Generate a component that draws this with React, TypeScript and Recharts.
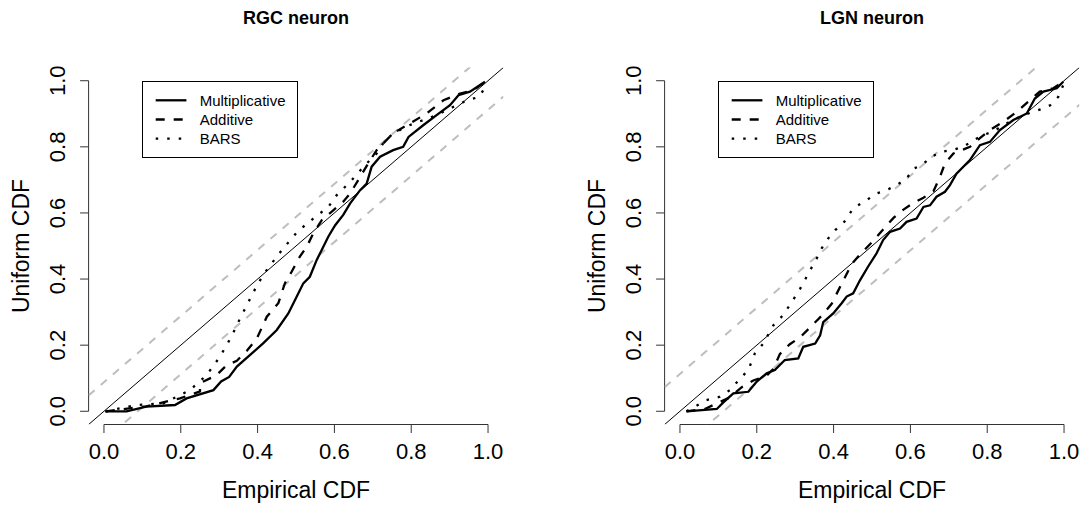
import React from 'react';
import { LineChart, Line, XAxis, YAxis, ReferenceLine, Legend, Label } from 'recharts';

// axis setup shared by both panels (R style: 4% padding around [0, 1])
const ticks = [0, 0.2, 0.4, 0.6, 0.8, 1];
const domain: [number, number] = [-0.04, 1.04];

const seriesNames = ['Multiplicative', 'Additive', 'BARS'];

// RGC neuron: [empirical, uniform]
const rgcMultiplicative = [
  [0.003, 0], [0.059, 0], [0.11, 0.014], [0.185, 0.019], [0.215, 0.039], [0.285, 0.064],
  [0.305, 0.09], [0.326, 0.104], [0.346, 0.135], [0.385, 0.175], [0.415, 0.206], [0.45, 0.246],
  [0.48, 0.296], [0.502, 0.347], [0.519, 0.387], [0.536, 0.407], [0.554, 0.458], [0.567, 0.488],
  [0.584, 0.528], [0.602, 0.563], [0.623, 0.594], [0.641, 0.629], [0.667, 0.669], [0.684, 0.689],
  [0.697, 0.74], [0.719, 0.77], [0.753, 0.79], [0.779, 0.8], [0.793, 0.83], [0.832, 0.866],
  [0.866, 0.896], [0.901, 0.926], [0.923, 0.956], [0.953, 0.967], [0.992, 0.997],
];
const rgcAdditive = [
  [0.005, 0], [0.11, 0.015], [0.198, 0.039], [0.25, 0.06], [0.25, 0.085], [0.293, 0.109],
  [0.318, 0.138], [0.346, 0.153], [0.372, 0.183], [0.398, 0.22], [0.424, 0.286], [0.454, 0.327],
  [0.471, 0.387], [0.489, 0.423], [0.51, 0.468], [0.528, 0.498], [0.545, 0.538], [0.567, 0.578],
  [0.597, 0.608], [0.623, 0.634], [0.641, 0.659], [0.667, 0.709], [0.688, 0.75], [0.71, 0.79],
  [0.753, 0.841], [0.797, 0.871], [0.84, 0.901], [0.884, 0.941], [0.927, 0.961], [0.962, 0.971],
  [0.992, 0.997],
];
const rgcBars = [
  [0.005, 0], [0.085, 0.019], [0.155, 0.024], [0.224, 0.064], [0.267, 0.109], [0.302, 0.165],
  [0.332, 0.226], [0.354, 0.28], [0.376, 0.33], [0.398, 0.38], [0.419, 0.42], [0.435, 0.445],
  [0.465, 0.49], [0.505, 0.545], [0.545, 0.583], [0.584, 0.618], [0.606, 0.654], [0.641, 0.694],
  [0.68, 0.745], [0.71, 0.78], [0.732, 0.82], [0.758, 0.844], [0.797, 0.866], [0.832, 0.881],
  [0.866, 0.896], [0.901, 0.916], [0.946, 0.941], [0.977, 0.951], [0.992, 0.98],
];
const rgcBand = 0.088;

// LGN neuron
const lgnMultiplicative = [
  [0.017, 0], [0.096, 0.007], [0.113, 0.027], [0.139, 0.054], [0.178, 0.059], [0.2, 0.09],
  [0.226, 0.115], [0.247, 0.125], [0.273, 0.155], [0.308, 0.16], [0.321, 0.195], [0.352, 0.205],
  [0.365, 0.23], [0.373, 0.27], [0.399, 0.296], [0.421, 0.327], [0.434, 0.347], [0.451, 0.357],
  [0.469, 0.397], [0.49, 0.438], [0.512, 0.478], [0.529, 0.518], [0.547, 0.543], [0.573, 0.553],
  [0.59, 0.573], [0.616, 0.583], [0.634, 0.618], [0.651, 0.623], [0.668, 0.649], [0.69, 0.664],
  [0.703, 0.684], [0.72, 0.719], [0.755, 0.76], [0.781, 0.805], [0.807, 0.815], [0.833, 0.851],
  [0.868, 0.881], [0.903, 0.901], [0.924, 0.946], [0.946, 0.967], [0.981, 0.977], [0.998, 0.997],
];
const lgnAdditive = [
  [0.017, 0], [0.065, 0.007], [0.096, 0.024], [0.13, 0.042], [0.161, 0.073], [0.191, 0.093],
  [0.226, 0.108], [0.243, 0.128], [0.26, 0.173], [0.286, 0.203], [0.313, 0.224], [0.339, 0.254],
  [0.356, 0.274], [0.373, 0.294], [0.395, 0.325], [0.412, 0.365], [0.434, 0.415], [0.447, 0.445],
  [0.469, 0.475], [0.503, 0.515], [0.529, 0.55], [0.556, 0.585], [0.582, 0.61], [0.608, 0.631],
  [0.634, 0.646], [0.66, 0.666], [0.677, 0.709], [0.69, 0.75], [0.712, 0.78], [0.755, 0.8],
  [0.781, 0.826], [0.807, 0.851], [0.842, 0.876], [0.877, 0.906], [0.911, 0.941], [0.937, 0.967],
  [0.972, 0.977], [0.998, 0.997],
];
const lgnBars = [
  [0.017, 0], [0.069, 0.034], [0.104, 0.044], [0.13, 0.064], [0.156, 0.098], [0.178, 0.125],
  [0.195, 0.175], [0.217, 0.205], [0.243, 0.26], [0.264, 0.285], [0.286, 0.321], [0.313, 0.371],
  [0.339, 0.427], [0.356, 0.462], [0.369, 0.493], [0.386, 0.523], [0.404, 0.548], [0.425, 0.568],
  [0.451, 0.614], [0.486, 0.639], [0.512, 0.659], [0.538, 0.669], [0.564, 0.684], [0.59, 0.704],
  [0.608, 0.734], [0.629, 0.744], [0.655, 0.77], [0.681, 0.785], [0.707, 0.79], [0.738, 0.8],
  [0.764, 0.82], [0.79, 0.836], [0.816, 0.846], [0.842, 0.866], [0.868, 0.881], [0.894, 0.896],
  [0.92, 0.906], [0.946, 0.916], [0.964, 0.926], [0.985, 0.951], [0.998, 0.987],
];
const lgnBand = 0.113;

const W = 541;
const H = 506;
const lineDash = [undefined, '9 9', '2.5 9'];
const axisColor = '#333';

const toPoints = (pairs: number[][]) => pairs.map(([x, y]) => ({ x, y }));

function XTick({ x, y, payload }: any) {
  return (
    <g>
      <line x1={x} x2={x} y1={y} y2={y + 8.5} stroke={axisColor} />
      <text x={x} y={y + 34.5} textAnchor="middle" fontSize={22} fill="#000">
        {payload.value.toFixed(1)}
      </text>
    </g>
  );
}

function YTick({ x, y, payload }: any) {
  const tx = x - 23.5;
  return (
    <g>
      <line x1={x - 8.5} x2={x} y1={y} y2={y} stroke={axisColor} />
      <text x={tx} y={y} transform={`rotate(-90 ${tx} ${y})`} textAnchor="middle" fontSize={22} fill="#000">
        {payload.value.toFixed(1)}
      </text>
    </g>
  );
}

function LegendBox() {
  return (
    <svg width={156} height={77} style={{ display: 'block' }}>
      <rect x={0.5} y={0.5} width={155} height={76} fill="#fff" stroke="#000" />
      {seriesNames.map((name, i) => {
        const ly = 19.3 + i * 19.2;
        return (
          <g key={name}>
            <line x1={13.7} x2={44.4} y1={ly} y2={ly} stroke="#000" strokeWidth={2.3} strokeDasharray={lineDash[i]} />
            <text x={57.7} y={ly} dy="0.36em" fontSize={15} fill="#000">{name}</text>
          </g>
        );
      })}
    </svg>
  );
}

function Panel({ title, curves, band, yAxisWidth, marginRight, legendLeft }: any) {
  const plotWidth = W - yAxisWidth - marginRight;
  const yLabelX = yAxisWidth - 60.1;
  const plotMid = 67.5 + (H - 67.5 - 81.5) / 2;
  return (
    <div style={{ position: 'relative', width: W, height: H }}>
      <div
        style={{
          position: 'absolute', left: yAxisWidth, width: plotWidth, top: 8.8,
          textAlign: 'center', fontWeight: 'bold', fontSize: 18, lineHeight: '18px',
        }}
      >
        {title}
      </div>
      <LineChart width={W} height={H} margin={{ top: 67.5, right: marginRight, bottom: 0, left: 0 }}>
        <XAxis
          type="number" dataKey="x" domain={domain} ticks={ticks} interval={0} allowDataOverflow
          axisLine={false} tickLine={false} tickSize={0} tickMargin={0} height={81.5} tick={<XTick />}
        >
          <Label position="insideBottom" offset={7.7} value="Empirical CDF" fontSize={23} fill="#000" />
        </XAxis>
        <YAxis
          type="number" dataKey="y" domain={domain} ticks={ticks} interval={0} allowDataOverflow
          axisLine={false} tickLine={false} tickSize={0} tickMargin={0} width={yAxisWidth} tick={<YTick />}
        >
          <Label
            content={() => (
              <text x={yLabelX} y={plotMid} transform={`rotate(-90 ${yLabelX} ${plotMid})`} textAnchor="middle" fontSize={23} fill="#000">
                Uniform CDF
              </text>
            )}
          />
        </YAxis>
        <ReferenceLine segment={[{ x: 0, y: domain[0] }, { x: 1, y: domain[0] }]} stroke={axisColor} ifOverflow="visible" />
        <ReferenceLine segment={[{ x: domain[0], y: 0 }, { x: domain[0], y: 1 }]} stroke={axisColor} ifOverflow="visible" />
        <ReferenceLine
          segment={[{ x: domain[0], y: domain[0] + band }, { x: domain[1], y: domain[1] + band }]}
          stroke="#bebebe" strokeWidth={2} strokeDasharray="8 8" ifOverflow="hidden"
        />
        <ReferenceLine
          segment={[{ x: domain[0], y: domain[0] - band }, { x: domain[1], y: domain[1] - band }]}
          stroke="#bebebe" strokeWidth={2} strokeDasharray="8 8" ifOverflow="hidden"
        />
        <ReferenceLine
          segment={[{ x: domain[0], y: domain[0] }, { x: domain[1], y: domain[1] }]}
          stroke="#000" strokeWidth={1} ifOverflow="hidden"
        />
        {curves.map((c: number[][], i: number) => (
          <Line
            key={seriesNames[i]} name={seriesNames[i]} data={toPoints(c)} dataKey="y" type="linear"
            stroke="#000" strokeWidth={2.3} strokeDasharray={lineDash[i]} dot={false} activeDot={false}
            isAnimationActive={false}
          />
        ))}
        <Legend
          layout="vertical" align="center" verticalAlign="middle"
          wrapperStyle={{ left: legendLeft, top: 80.7, width: 156, height: 77 }}
          content={() => <LegendBox />}
        />
      </LineChart>
    </div>
  );
}

export default function App() {
  return (
    <div
      style={{
        position: 'absolute', left: 0, top: 0, width: 1082, height: 506, background: '#fff',
        display: 'flex', fontFamily: '"Liberation Sans", Arial, Helvetica, sans-serif',
      }}
    >
      <Panel
        title="RGC neuron" curves={[rgcMultiplicative, rgcAdditive, rgcBars]} band={rgcBand}
        yAxisWidth={88.6} marginRight={37.6} legendLeft={142.3}
      />
      <Panel
        title="LGN neuron" curves={[lgnMultiplicative, lgnAdditive, lgnBars]} band={lgnBand}
        yAxisWidth={123.6} marginRight={2.6} legendLeft={177.3}
      />
    </div>
  );
}
